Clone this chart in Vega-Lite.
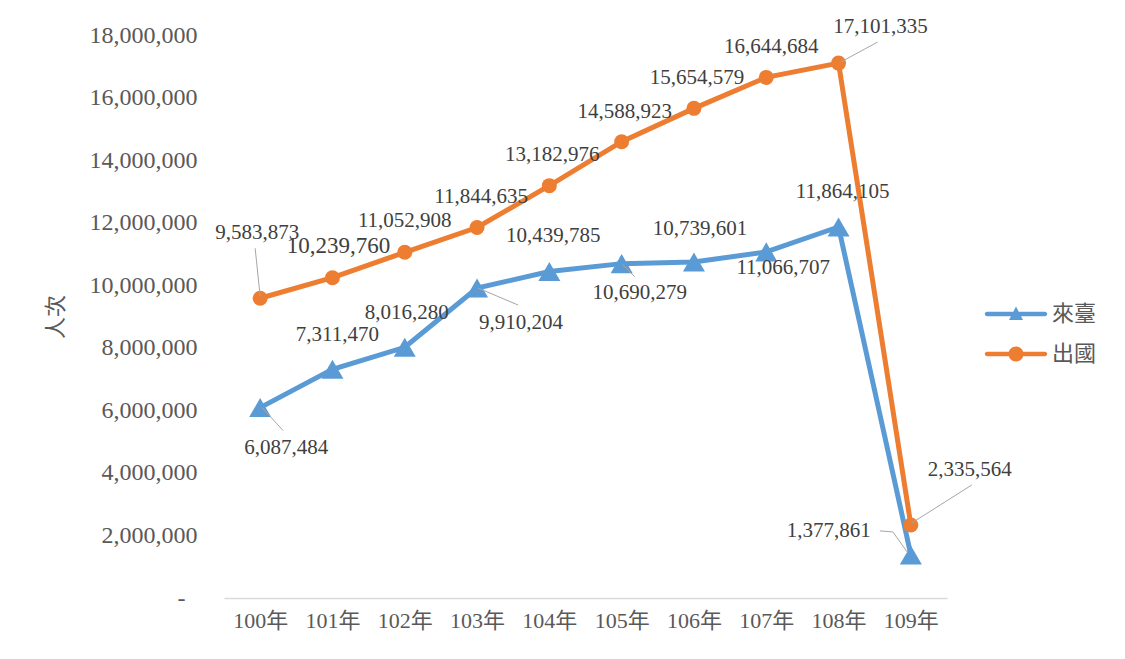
{
  "$schema": "https://vega.github.io/schema/vega-lite/v6.json",
  "width": 723,
  "height": 563,
  "autosize": {"type": "none"},
  "padding": {"left": 224, "top": 35, "right": 178, "bottom": 61},
  "background": "white",
  "data": {
    "values": [
      {"year": "100年", "series": "來臺", "value": 6087484},
      {"year": "101年", "series": "來臺", "value": 7311470},
      {"year": "102年", "series": "來臺", "value": 8016280},
      {"year": "103年", "series": "來臺", "value": 9910204},
      {"year": "104年", "series": "來臺", "value": 10439785},
      {"year": "105年", "series": "來臺", "value": 10690279},
      {"year": "106年", "series": "來臺", "value": 10739601},
      {"year": "107年", "series": "來臺", "value": 11066707},
      {"year": "108年", "series": "來臺", "value": 11864105},
      {"year": "109年", "series": "來臺", "value": 1377861},
      {"year": "100年", "series": "出國", "value": 9583873},
      {"year": "101年", "series": "出國", "value": 10239760},
      {"year": "102年", "series": "出國", "value": 11052908},
      {"year": "103年", "series": "出國", "value": 11844635},
      {"year": "104年", "series": "出國", "value": 13182976},
      {"year": "105年", "series": "出國", "value": 14588923},
      {"year": "106年", "series": "出國", "value": 15654579},
      {"year": "107年", "series": "出國", "value": 16644684},
      {"year": "108年", "series": "出國", "value": 17101335},
      {"year": "109年", "series": "出國", "value": 2335564}
    ]
  },
  "encoding": {
    "x": {
      "field": "year", "type": "ordinal",
      "scale": {"type": "point", "padding": 0.5},
      "axis": {"title": null, "labelAngle": 0, "ticks": false, "grid": false, "domainColor": "#D9D9D9", "domainWidth": 1.5, "labelPadding": 12, "labelFontSize": 22, "labelColor": "#595959", "labelFont": "'Liberation Serif', 'Times New Roman', 'Noto Sans CJK TC', serif"}
    },
    "y": {
      "field": "value", "type": "quantitative",
      "scale": {"domain": [0, 18000000], "nice": false},
      "axis": {"title": "人次", "values": [0, 2000000, 4000000, 6000000, 8000000, 10000000, 12000000, 14000000, 16000000, 18000000], "labelExpr": "datum.value === 0 ? '-' : format(datum.value, ',')", "grid": false, "ticks": false, "domain": false, "labelPadding": {"condition": {"test": "datum.value === 0", "value": 39}, "value": 27}, "labelFontSize": 24, "labelColor": "#595959", "labelFont": "'Liberation Serif', 'Times New Roman', serif", "titlePadding": 22, "titleFontSize": 22, "titleFontWeight": "normal", "titleColor": "#595959", "titleFont": "'Noto Sans CJK TC'"}
    }
  },
  "layer": [
    {"mark": {"type": "line", "strokeWidth": 5}, "encoding": {"color": {"field": "series", "type": "nominal", "title": null, "scale": {"domain": ["來臺", "出國"], "range": ["#5B9BD5", "#ED7D31"]}}}},
    {"transform": [{"filter": "datum.series === '來臺'"}], "mark": {"type": "point", "shape": "triangle-up", "filled": true, "size": 484, "opacity": 1, "color": "#5B9BD5"}},
    {"transform": [{"filter": "datum.series === '出國'"}], "mark": {"type": "point", "shape": "circle", "filled": true, "size": 225, "opacity": 1, "color": "#ED7D31"}},
    {"mark": {"type": "point", "filled": true, "opacity": 0}, "encoding": {
      "color": {"field": "series", "type": "nominal", "title": null},
      "shape": {"field": "series", "type": "nominal", "title": null, "scale": {"domain": ["來臺", "出國"], "range": [
        "M-2.9,-0.22L2.9,-0.22A0.22,0.22 0 0,1 2.9,0.22L-2.9,0.22A0.22,0.22 0 0,1 -2.9,-0.22Z M-0.7,0.6L0,-0.75L0.7,0.6Z",
        "M-2.9,-0.22L2.9,-0.22A0.22,0.22 0 0,1 2.9,0.22L-2.9,0.22A0.22,0.22 0 0,1 -2.9,-0.22Z M0.75,0A0.75,0.75 0 1,1 -0.75,0A0.75,0.75 0 1,1 0.75,0Z"
      ]}}
    }},
    {"transform": [{"filter": "datum.series === '出國' && datum.year === '100年'"}], "mark": {"type": "rule", "color": "#A6A6A6", "strokeWidth": 1, "xOffset": -5, "yOffset": -50, "x2Offset": 0, "y2Offset": -2}, "encoding": {"x2": {"field": "year"}, "y2": {"field": "value"}}},
    {"transform": [{"filter": "datum.series === '出國' && datum.year === '108年'"}], "mark": {"type": "rule", "color": "#A6A6A6", "strokeWidth": 1, "xOffset": 39, "yOffset": -21, "x2Offset": 2, "y2Offset": -1}, "encoding": {"x2": {"field": "year"}, "y2": {"field": "value"}}},
    {"transform": [{"filter": "datum.series === '出國' && datum.year === '109年'"}], "mark": {"type": "rule", "color": "#A6A6A6", "strokeWidth": 1, "xOffset": 61, "yOffset": -40, "x2Offset": 1, "y2Offset": -2}, "encoding": {"x2": {"field": "year"}, "y2": {"field": "value"}}},
    {"transform": [{"filter": "datum.series === '來臺' && datum.year === '100年'"}], "mark": {"type": "rule", "color": "#A6A6A6", "strokeWidth": 1, "xOffset": 2, "yOffset": 0, "x2Offset": 23, "y2Offset": 23}, "encoding": {"x2": {"field": "year"}, "y2": {"field": "value"}}},
    {"transform": [{"filter": "datum.series === '來臺' && datum.year === '103年'"}], "mark": {"type": "rule", "color": "#A6A6A6", "strokeWidth": 1, "xOffset": 1, "yOffset": 0, "x2Offset": 41, "y2Offset": 17}, "encoding": {"x2": {"field": "year"}, "y2": {"field": "value"}}},
    {"transform": [{"filter": "datum.series === '來臺' && datum.year === '105年'"}], "mark": {"type": "rule", "color": "#A6A6A6", "strokeWidth": 1, "xOffset": 1, "yOffset": 1, "x2Offset": 13, "y2Offset": 13}, "encoding": {"x2": {"field": "year"}, "y2": {"field": "value"}}},
    {"transform": [{"filter": "datum.series === '來臺' && datum.year === '109年'"}], "mark": {"type": "rule", "color": "#A6A6A6", "strokeWidth": 1, "xOffset": -31, "yOffset": -24, "x2Offset": -18, "y2Offset": -23}, "encoding": {"x2": {"field": "year"}, "y2": {"field": "value"}}},
    {"transform": [{"filter": "datum.series === '來臺' && datum.year === '109年'"}], "mark": {"type": "rule", "color": "#A6A6A6", "strokeWidth": 1, "xOffset": -18, "yOffset": -23, "x2Offset": -3, "y2Offset": -2}, "encoding": {"x2": {"field": "year"}, "y2": {"field": "value"}}},
    {"transform": [{"filter": "datum.series === '出國' && datum.year === '100年'"}], "mark": {"type": "text", "font": "'Liberation Serif', 'Times New Roman', serif", "fontSize": 21, "fill": "#404040", "align": "center", "baseline": "middle", "dx": -3, "dy": -65}, "encoding": {"text": {"field": "value", "type": "quantitative", "format": ","}}},
    {"transform": [{"filter": "datum.series === '出國' && datum.year === '101年'"}], "mark": {"type": "text", "font": "'Liberation Serif', 'Times New Roman', serif", "fontSize": 23, "fill": "#404040", "align": "center", "baseline": "middle", "dx": 6, "dy": -32}, "encoding": {"text": {"field": "value", "type": "quantitative", "format": ","}}},
    {"transform": [{"filter": "datum.series === '出國' && datum.year === '102年'"}], "mark": {"type": "text", "font": "'Liberation Serif', 'Times New Roman', serif", "fontSize": 21, "fill": "#404040", "align": "center", "baseline": "middle", "dx": 0, "dy": -31}, "encoding": {"text": {"field": "value", "type": "quantitative", "format": ","}}},
    {"transform": [{"filter": "datum.series === '出國' && datum.year === '103年'"}], "mark": {"type": "text", "font": "'Liberation Serif', 'Times New Roman', serif", "fontSize": 21, "fill": "#404040", "align": "center", "baseline": "middle", "dx": 4, "dy": -31}, "encoding": {"text": {"field": "value", "type": "quantitative", "format": ","}}},
    {"transform": [{"filter": "datum.series === '出國' && datum.year === '104年'"}], "mark": {"type": "text", "font": "'Liberation Serif', 'Times New Roman', serif", "fontSize": 21, "fill": "#404040", "align": "center", "baseline": "middle", "dx": 3, "dy": -31}, "encoding": {"text": {"field": "value", "type": "quantitative", "format": ","}}},
    {"transform": [{"filter": "datum.series === '出國' && datum.year === '105年'"}], "mark": {"type": "text", "font": "'Liberation Serif', 'Times New Roman', serif", "fontSize": 21, "fill": "#404040", "align": "center", "baseline": "middle", "dx": 3, "dy": -30}, "encoding": {"text": {"field": "value", "type": "quantitative", "format": ","}}},
    {"transform": [{"filter": "datum.series === '出國' && datum.year === '106年'"}], "mark": {"type": "text", "font": "'Liberation Serif', 'Times New Roman', serif", "fontSize": 21, "fill": "#404040", "align": "center", "baseline": "middle", "dx": 3, "dy": -30}, "encoding": {"text": {"field": "value", "type": "quantitative", "format": ","}}},
    {"transform": [{"filter": "datum.series === '出國' && datum.year === '107年'"}], "mark": {"type": "text", "font": "'Liberation Serif', 'Times New Roman', serif", "fontSize": 21, "fill": "#404040", "align": "center", "baseline": "middle", "dx": 5, "dy": -30}, "encoding": {"text": {"field": "value", "type": "quantitative", "format": ","}}},
    {"transform": [{"filter": "datum.series === '出國' && datum.year === '108年'"}], "mark": {"type": "text", "font": "'Liberation Serif', 'Times New Roman', serif", "fontSize": 21, "fill": "#404040", "align": "center", "baseline": "middle", "dx": 42, "dy": -36}, "encoding": {"text": {"field": "value", "type": "quantitative", "format": ","}}},
    {"transform": [{"filter": "datum.series === '出國' && datum.year === '109年'"}], "mark": {"type": "text", "font": "'Liberation Serif', 'Times New Roman', serif", "fontSize": 21, "fill": "#404040", "align": "center", "baseline": "middle", "dx": 59, "dy": -55}, "encoding": {"text": {"field": "value", "type": "quantitative", "format": ","}}},
    {"transform": [{"filter": "datum.series === '來臺' && datum.year === '100年'"}], "mark": {"type": "text", "font": "'Liberation Serif', 'Times New Roman', serif", "fontSize": 21, "fill": "#404040", "align": "center", "baseline": "middle", "dx": 26, "dy": 40}, "encoding": {"text": {"field": "value", "type": "quantitative", "format": ","}}},
    {"transform": [{"filter": "datum.series === '來臺' && datum.year === '101年'"}], "mark": {"type": "text", "font": "'Liberation Serif', 'Times New Roman', serif", "fontSize": 21, "fill": "#404040", "align": "center", "baseline": "middle", "dx": 5, "dy": -34}, "encoding": {"text": {"field": "value", "type": "quantitative", "format": ","}}},
    {"transform": [{"filter": "datum.series === '來臺' && datum.year === '102年'"}], "mark": {"type": "text", "font": "'Liberation Serif', 'Times New Roman', serif", "fontSize": 21, "fill": "#404040", "align": "center", "baseline": "middle", "dx": 2, "dy": -34}, "encoding": {"text": {"field": "value", "type": "quantitative", "format": ","}}},
    {"transform": [{"filter": "datum.series === '來臺' && datum.year === '103年'"}], "mark": {"type": "text", "font": "'Liberation Serif', 'Times New Roman', serif", "fontSize": 21, "fill": "#404040", "align": "center", "baseline": "middle", "dx": 44, "dy": 35}, "encoding": {"text": {"field": "value", "type": "quantitative", "format": ","}}},
    {"transform": [{"filter": "datum.series === '來臺' && datum.year === '104年'"}], "mark": {"type": "text", "font": "'Liberation Serif', 'Times New Roman', serif", "fontSize": 21, "fill": "#404040", "align": "center", "baseline": "middle", "dx": 4, "dy": -35}, "encoding": {"text": {"field": "value", "type": "quantitative", "format": ","}}},
    {"transform": [{"filter": "datum.series === '來臺' && datum.year === '105年'"}], "mark": {"type": "text", "font": "'Liberation Serif', 'Times New Roman', serif", "fontSize": 21, "fill": "#404040", "align": "center", "baseline": "middle", "dx": 18, "dy": 29}, "encoding": {"text": {"field": "value", "type": "quantitative", "format": ","}}},
    {"transform": [{"filter": "datum.series === '來臺' && datum.year === '106年'"}], "mark": {"type": "text", "font": "'Liberation Serif', 'Times New Roman', serif", "fontSize": 21, "fill": "#404040", "align": "center", "baseline": "middle", "dx": 6, "dy": -33}, "encoding": {"text": {"field": "value", "type": "quantitative", "format": ","}}},
    {"transform": [{"filter": "datum.series === '來臺' && datum.year === '107年'"}], "mark": {"type": "text", "font": "'Liberation Serif', 'Times New Roman', serif", "fontSize": 21, "fill": "#404040", "align": "center", "baseline": "middle", "dx": 17, "dy": 16}, "encoding": {"text": {"field": "value", "type": "quantitative", "format": ","}}},
    {"transform": [{"filter": "datum.series === '來臺' && datum.year === '108年'"}], "mark": {"type": "text", "font": "'Liberation Serif', 'Times New Roman', serif", "fontSize": 21, "fill": "#404040", "align": "center", "baseline": "middle", "dx": 4, "dy": -35}, "encoding": {"text": {"field": "value", "type": "quantitative", "format": ","}}},
    {"transform": [{"filter": "datum.series === '來臺' && datum.year === '109年'"}], "mark": {"type": "text", "font": "'Liberation Serif', 'Times New Roman', serif", "fontSize": 21, "fill": "#404040", "align": "center", "baseline": "middle", "dx": -82, "dy": -24}, "encoding": {"text": {"field": "value", "type": "quantitative", "format": ","}}}
  ],
  "config": {
    "view": {"stroke": null},
    "legend": {
      "orient": "none", "legendX": 781, "legendY": 268, "padding": 0,
      "labelFont": "'Noto Sans CJK TC'", "labelFontSize": 22, "labelColor": "#595959",
      "symbolSize": 400, "symbolStrokeWidth": 0, "symbolOpacity": 1,
      "labelOffset": 25, "rowPadding": 18
    }
  }
}
